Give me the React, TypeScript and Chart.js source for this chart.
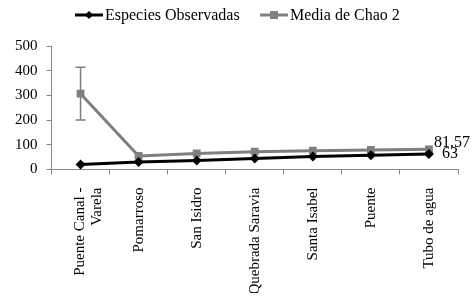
import React, { useEffect, useRef } from "react";
import { Chart, registerables } from "chart.js";
Chart.register(...registerables);

const categories: (string | string[])[] = [
  ["Puente Canal -", "Varela"],
  "Pomarroso",
  "San Isidro",
  "Quebrada Saravia",
  "Santa Isabel",
  "Puente",
  "Tubo de agua",
];
const especiesObservadas = [20, 30, 36, 45, 53, 58, 63];
const mediaChao2 = [307, 55, 65, 72, 76, 79, 81.57];
const chao2Error = [107, 0, 0, 0, 0, 0, 0];
const lastLabels = ["63", "81.57"];
const yMin = 0;
const yMax = 500;
const yStep = 100;

const FONT = "'Liberation Serif', 'Times New Roman', Times, serif";
const BLACK = "#000000";
const GREY = "#7f7f7f";

const extrasPlugin = {
  id: "extras",
  beforeDatasetsDraw(chart: any) {
    const ctx = chart.ctx;
    const meta = chart.getDatasetMeta(1);
    const y = chart.scales.y;
    ctx.save();
    ctx.strokeStyle = GREY;
    ctx.lineWidth = 1.5;
    meta.data.forEach((pt: any, i: number) => {
      const e = chao2Error[i];
      if (!e) return;
      const v = mediaChao2[i];
      const yt = y.getPixelForValue(v + e);
      const yb = y.getPixelForValue(v - e);
      ctx.beginPath();
      ctx.moveTo(pt.x, yt);
      ctx.lineTo(pt.x, yb);
      ctx.moveTo(pt.x - 5, yt);
      ctx.lineTo(pt.x + 5, yt);
      ctx.moveTo(pt.x - 5, yb);
      ctx.lineTo(pt.x + 5, yb);
      ctx.stroke();
    });
    ctx.restore();
  },
  afterDraw(chart: any) {
    const ctx = chart.ctx;
    ctx.save();
    ctx.font = `16px ${FONT}`;
    ctx.fillStyle = BLACK;
    ctx.textBaseline = "middle";
    ctx.textAlign = "left";
    [0, 1].forEach((di) => {
      const meta = chart.getDatasetMeta(di);
      const pt = meta.data[meta.data.length - 1];
      const dx = di === 0 ? 13 : 5;
      const dy = di === 0 ? 0 : -7;
      ctx.fillText(lastLabels[di], pt.x + dx, pt.y + dy);
    });
    const ly = 15;
    const items = [
      { x: 75, color: BLACK, style: "diamond", text: "Especies Observadas" },
      { x: 260, color: GREY, style: "square", text: "Media de Chao 2" },
    ];
    items.forEach((it) => {
      ctx.strokeStyle = it.color;
      ctx.lineWidth = 3;
      ctx.beginPath();
      ctx.moveTo(it.x, ly);
      ctx.lineTo(it.x + 28, ly);
      ctx.stroke();
      ctx.fillStyle = it.color;
      const cx = it.x + 14;
      if (it.style === "diamond") {
        ctx.beginPath();
        ctx.moveTo(cx, ly - 4);
        ctx.lineTo(cx + 4, ly);
        ctx.lineTo(cx, ly + 4);
        ctx.lineTo(cx - 4, ly);
        ctx.closePath();
        ctx.fill();
      } else {
        ctx.fillRect(cx - 4, ly - 4, 8, 8);
      }
      ctx.fillStyle = BLACK;
      ctx.fillText(it.text, it.x + 30, ly + 1);
    });
    ctx.restore();
  },
};

export default function App() {
  const ref = useRef<HTMLCanvasElement | null>(null);
  useEffect(() => {
    if (!ref.current) return;
    let chart: Chart | null = null;
    let cancelled = false;
    const build = () => {
      if (cancelled || !ref.current) return;
      chart = new Chart(ref.current, {
        type: "line",
        data: {
          labels: categories as any,
          datasets: [
            {
              label: "Especies Observadas",
              data: especiesObservadas,
              borderColor: BLACK,
              backgroundColor: BLACK,
              borderWidth: 3,
              pointStyle: "rectRot",
              pointRadius: 5,
              pointBorderWidth: 0,
              order: 0,
            },
            {
              label: "Media de Chao 2",
              data: mediaChao2,
              borderColor: GREY,
              backgroundColor: GREY,
              borderWidth: 3,
              pointStyle: "rect",
              pointRadius: 5.5,
              pointBorderWidth: 0,
              order: 1,
            },
          ],
        },
        options: {
          animation: false,
          responsive: true,
          maintainAspectRatio: false,
          layout: { padding: { top: 46, left: 6, right: 16, bottom: 4 } },
          plugins: { legend: { display: false }, tooltip: { enabled: false } },
          scales: {
            x: {
              offset: true,
              grid: {
                offset: true,
                drawOnChartArea: false,
                drawTicks: true,
                tickLength: 5,
                color: "#868686",
              },
              border: { color: "#868686", width: 1 },
              ticks: {
                color: BLACK,
                font: { family: FONT, size: 15, lineHeight: 1.1 },
                minRotation: 90,
                maxRotation: 90,
                autoSkip: false,
                padding: 13,
              },
            },
            y: {
              min: yMin,
              max: yMax,
              grid: {
                drawOnChartArea: false,
                drawTicks: true,
                tickLength: 5,
                color: "#868686",
              },
              border: { color: "#868686", width: 1 },
              ticks: {
                stepSize: yStep,
                color: BLACK,
                font: { family: FONT, size: 15 },
                padding: 9,
              },
            },
          },
        },
        plugins: [extrasPlugin],
      });
    };
    const fonts: any = (document as any).fonts;
    if (fonts && fonts.load) {
      fonts.load("16px 'Liberation Serif'").then(build, build);
    } else build();
    return () => {
      cancelled = true;
      if (chart) chart.destroy();
    };
  }, []);
  return (
    <div style={{ position: "fixed", left: 0, top: 0, width: 474, height: 297, background: "#fff" }}>
      <canvas ref={ref} />
    </div>
  );
}
